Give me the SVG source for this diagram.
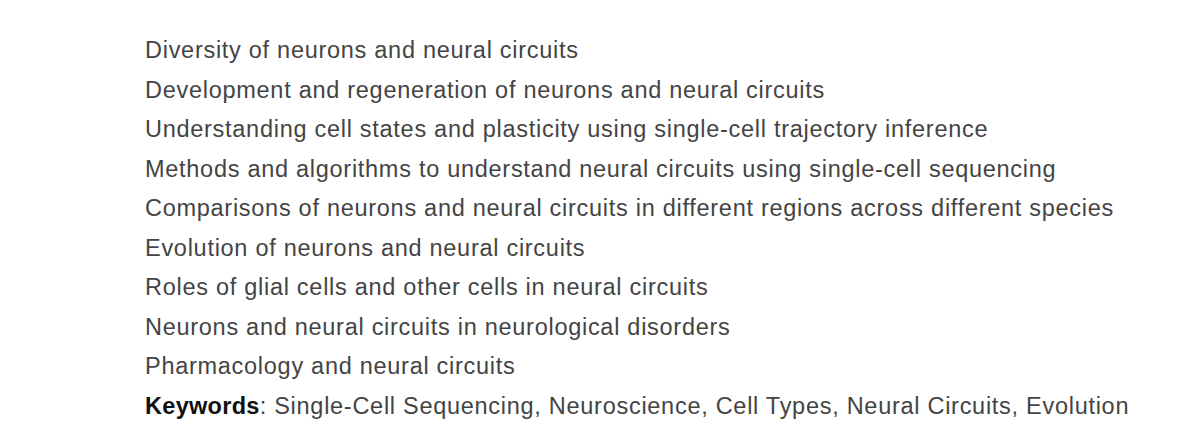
<svg xmlns="http://www.w3.org/2000/svg" width="1200" height="448" viewBox="0 0 1200 448">
<style>
text{font-family:"Liberation Sans",Arial,sans-serif;font-size:23.5px;letter-spacing:0.72px;fill:#444}
.k{font-weight:bold;fill:#111;letter-spacing:0.3px}
</style>
<rect width="1200" height="448" fill="#fff"/>
<g id="lines">
<text x="145" y="58">Diversity of neurons and neural circuits</text>
<text x="145" y="98">Development and regeneration of neurons and neural circuits</text>
<text x="145" y="137">Understanding cell states and plasticity using single-cell trajectory inference</text>
<text x="145" y="177">Methods and algorithms to understand neural circuits using single-cell sequencing</text>
<text x="145" y="216">Comparisons of neurons and neural circuits in different regions across different species</text>
<text x="145" y="256">Evolution of neurons and neural circuits</text>
<text x="145" y="295">Roles of glial cells and other cells in neural circuits</text>
<text x="145" y="335">Neurons and neural circuits in neurological disorders</text>
<text x="145" y="374">Pharmacology and neural circuits</text>
<text x="145" y="414"><tspan class="k">Keywords</tspan>: Single-Cell Sequencing, Neuroscience, Cell Types, Neural Circuits, Evolution</text>
</g>
</svg>
